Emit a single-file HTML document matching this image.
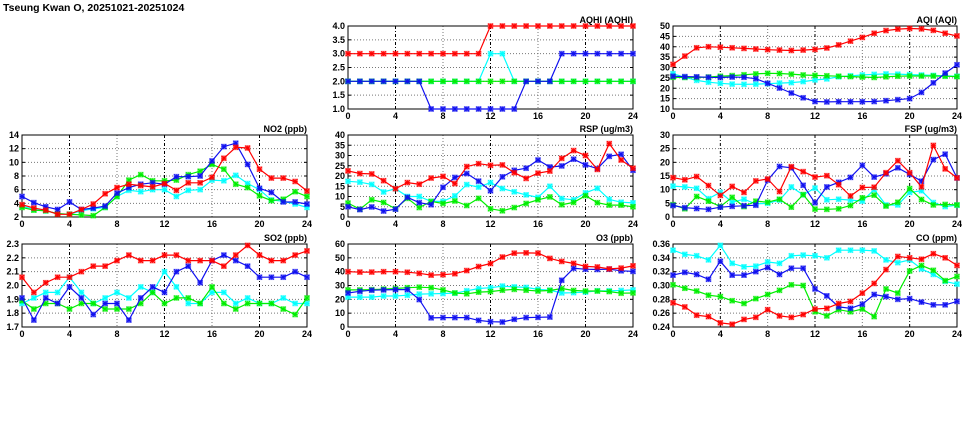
<!DOCTYPE html>
<html><head><meta charset="utf-8"><style>
html,body{margin:0;padding:0;background:#fff;}
svg{display:block;font-family:"Liberation Sans",sans-serif;}
</style></head><body>
<svg id="chart" width="975" height="447" viewBox="0 0 975 447">
<text x="3" y="11" font-size="10.5" font-weight="bold" fill="#000">Tseung Kwan O, 20251021-20251024</text>
</svg>
<script>
const hours = [0,1,2,3,4,5,6,7,8,9,10,11,12,13,14,15,16,17,18,19,20,21,22,23,24];
const xTicks = [0,4,8,12,16,20,24];
const seriesColors = ['#00ffff','#00ee00','#1010f0','#ff0000'];
const seriesNames = ['cyan','green','blue','red'];

const no2Red = [3.8,3.3,3.0,2.4,2.4,3.1,3.9,5.4,6.3,6.8,6.6,6.4,6.9,5.9,7.0,7.0,7.8,10.6,12.2,12.1,9.0,7.7,7.7,7.2,5.8];
const no2Blue = [5.0,4.1,3.5,3.1,4.2,3.1,3.3,3.6,5.5,6.3,6.8,7.0,6.8,7.9,7.9,8.0,10.2,12.3,12.8,9.7,6.2,5.6,4.2,4.2,3.9];
const no2Cyan = [3.6,3.1,2.9,2.5,2.4,2.9,3.2,3.4,5.0,5.9,5.7,6.0,6.0,5.0,5.9,6.0,7.4,7.3,8.1,6.9,6.0,4.5,4.3,3.9,3.4];
const no2Green = [3.4,3.0,2.9,2.5,2.4,2.3,2.2,3.4,5.0,7.4,8.2,7.3,7.3,7.4,8.2,8.7,9.7,9.0,6.8,6.3,5.1,4.4,4.6,5.7,5.0];
const no2Ticks = [2,4,6,8,10,12,14];

const aqhiRed = [3,3,3,3,3,3,3,3,3,3,3,3,4,4,4,4,4,4,4,4,4,4,4,4,4];
const aqhiBlue = [2,2,2,2,2,2,2,1,1,1,1,1,1,1,1,2,2,2,3,3,3,3,3,3,3];
const aqhiCyan = [2,2,2,2,2,2,2,2,2,2,2,2,3,3,2,2,2,2,2,2,2,2,2,2,2];
const aqhiGreen = [2,2,2,2,2,2,2,2,2,2,2,2,2,2,2,2,2,2,2,2,2,2,2,2,2];
const aqhiTicks = [1.0,1.5,2.0,2.5,3.0,3.5,4.0];

const aqiRed = [31.5,35.5,39.5,40,39.8,39.5,39.2,38.9,38.6,38.4,38.2,38.4,38.7,39.4,40.9,42.7,44.5,46.5,47.8,48.5,48.8,48.6,47.9,46.5,45.2];
const aqiBlue = [25.8,25.6,25.5,25.3,25.2,25.4,25.3,24.6,22.4,20.1,17.7,15.4,13.6,13.4,13.5,13.5,13.5,13.6,14,14.5,15,18,22.6,27.3,31.3];
const aqiCyan = [27,25.3,23.8,22.9,22.4,22,21.9,22,22.2,22.5,22.7,23.2,24,24.5,25.5,26,26.4,26.7,26.9,26.8,26.6,26.4,26.2,26,25.8];
const aqiGreen = [25.3,25.2,25.2,25.4,25.8,26.1,26.5,26.9,27.2,27.1,26.8,26.4,26.2,26,25.8,25.6,25.4,25.2,25.5,25.8,25.9,25.9,25.9,25.8,25.6];
const aqiTicks = [10,15,20,25,30,35,40,45,50];

const rspRed = [22.5,21.2,21,17.7,13.8,16.8,16,19,19.8,16.3,24.6,26,25.2,25.4,21.6,18.8,21.4,22.4,28.6,32.4,30,23.2,35.8,27.8,23.8];
const rspBlue = [5,3.6,4.9,2.9,3.8,9.6,7,6,14.5,19.3,21.2,17.5,12.8,19.6,22.8,23.8,27.8,24.4,24.9,28.2,25.4,23.6,29.6,30.6,22.8];
const rspCyan = [17.4,17,15.9,12.2,13.8,10,10,7.6,7.6,10.3,15.8,14.6,16.8,13.9,12.3,10.8,9.6,15,9,8.4,11.8,14,8.6,7.2,6.9];
const rspGreen = [6.8,3.8,8.4,7.1,4,9.1,4.6,7.6,6.6,7.8,5.6,9.1,4,3,4.6,6.6,8.4,9.8,6,7.1,10.4,7,5.8,5.8,5];
const rspTicks = [0,5,10,15,20,25,30,35,40];

const fspRed = [14.4,13.6,14.8,11.5,7.9,11.2,9,13.2,13.9,9.3,18.4,16.6,14.6,15.1,11.8,7.7,10.8,10.9,16.2,20.6,16.2,11,26.2,17.6,14.3];
const fspBlue = [4.2,3.4,3.1,2.8,3.6,3.9,4.1,4.3,13.5,18.5,18,11.6,5.2,11,12.7,14.5,18.9,14.6,15.8,18,15.6,13.1,21,23,14.3];
const fspCyan = [11.3,11,10.5,6.7,9,5.4,6.5,4.8,5,6.2,11,8.1,10.6,6.3,6.5,6.2,5.8,10,4.4,4.4,9,9.6,5.3,3.8,4.3];
const fspGreen = [4.5,3,7.5,5.8,3.8,7.2,3.8,5.8,5.4,6.5,3.6,8.2,2.9,2.8,3,4.2,7,8,4,5.4,10.4,6.4,4.4,4.6,4.4];
const fspTicks = [0,5,10,15,20,25,30];

const so2Red = [2.06,1.95,2.02,2.06,2.06,2.10,2.14,2.14,2.18,2.22,2.18,2.18,2.22,2.22,2.18,2.18,2.18,2.14,2.22,2.29,2.22,2.18,2.18,2.22,2.25];
const so2Blue = [1.91,1.75,1.91,1.87,1.99,1.91,1.79,1.87,1.87,1.75,1.91,1.99,1.95,2.10,2.14,2.02,2.18,2.22,2.18,2.14,2.06,2.06,2.06,2.10,2.06];
const so2Cyan = [1.87,1.91,1.95,1.95,2.06,1.95,1.87,1.91,1.95,1.91,1.99,1.95,2.10,1.99,1.87,1.87,1.95,1.95,1.87,1.91,1.87,1.87,1.91,1.87,1.87];
const so2Green = [1.89,1.83,1.87,1.87,1.83,1.87,1.87,1.83,1.83,1.83,1.87,1.95,1.87,1.91,1.91,1.87,1.99,1.87,1.83,1.87,1.87,1.87,1.83,1.79,1.91];
const so2Ticks = [1.7,1.8,1.9,2.0,2.1,2.2,2.3];

const o3Red = [40,39.7,39.7,40,40,39.6,38.8,37.5,37.8,38.5,40.8,43.7,45.9,50.6,53.4,53.6,53.4,49.6,47.4,46,43.8,43.4,42,42.6,44.2];
const o3Blue = [24.6,25.8,26.6,26.8,27,27,19.8,6.6,6.8,6.8,6.8,4.8,3.8,3.6,5.6,6.8,7,7.2,33.8,42.4,41.8,41.6,41.8,40.6,40.2];
const o3Cyan = [21.6,21.6,21.6,22.4,22.4,23,23.8,24,24.2,24.4,26.2,27.8,28.4,29.6,29,28.6,27.2,26.6,24.6,24.8,25.2,26.2,26.2,26.4,26.8];
const o3Green = [26.8,26.8,27,27.4,27.8,28.4,28.8,28.4,26.8,24.6,24,25.2,25.6,26.6,27.2,26.6,26,26.4,27.8,26.4,26,26,25.6,24.4,24.6];
const o3Ticks = [0,10,20,30,40,50,60];

const coRed = [.275,.269,.257,.255,.246,.244,.251,.254,.265,.256,.254,.258,.266,.267,.274,.277,.289,.303,.323,.342,.340,.338,.346,.340,.329];
const coBlue = [.315,.319,.316,.309,.335,.315,.315,.320,.326,.316,.325,.325,.295,.285,.269,.267,.273,.287,.284,.280,.281,.276,.272,.272,.277];
const coCyan = [.351,.345,.343,.337,.358,.332,.327,.328,.334,.332,.343,.344,.343,.340,.351,.351,.351,.350,.337,.333,.337,.324,.316,.306,.302];
const coGreen = [.301,.296,.292,.286,.284,.278,.274,.281,.287,.293,.301,.300,.262,.256,.265,.262,.266,.255,.295,.289,.321,.329,.322,.307,.313];
const coTicks = [0.24,0.26,0.28,0.30,0.32,0.34,0.36];

const NS = 'http://www.w3.org/2000/svg';
const svg = document.getElementById('chart');
function mk(tag, attrs, parent) {
  const e = document.createElementNS(NS, tag);
  for (const k in attrs) e.setAttribute(k, attrs[k]);
  (parent || svg).appendChild(e);
  return e;
}
const colX = [[22,307],[348,633],[673,957]];
const rowY = [[26,109],[135,217],[244,327]];

function panel(name, title, col, row, ticks, dec, series) {
  const [x0,x1] = colX[col], [y0,y1] = rowY[row];
  const ymin = ticks[0], ymax = ticks[ticks.length-1];
  const sx = v => x0 + (v - hours[0]) / (hours[hours.length-1] - hours[0]) * (x1 - x0);
  const sy = v => y1 - (v - ymin) / (ymax - ymin) * (y1 - y0);
  const g = mk('g', {});
  
  
  mk('rect', {x:x0, y:y0, width:x1-x0, height:y1-y0, fill:'#fff', stroke:'none'}, g);
  ticks.forEach((t, i) => {
    const y = sy(t);
    if (i > 0 && i < ticks.length-1) mk('line', {x1:x0, x2:x1, y1:y, y2:y, stroke:'#777', 'stroke-width':1, 'stroke-dasharray':'1,2'}, g);
    mk('line', {x1:x0, x2:x0+3, y1:y, y2:y, stroke:'#000'}, g);
    mk('line', {x1:x1-3, x2:x1, y1:y, y2:y, stroke:'#000'}, g);
    const tl = mk('text', {x:x0-3, y:y+3, 'text-anchor':'end', 'font-size':9, 'font-weight':'bold'}, g);
    tl.textContent = t.toFixed(dec);
    
    
  });
  xTicks.forEach((t, i) => {
    const x = sx(t);
    if (i > 0 && i < xTicks.length-1) {
      const dark = (t === 4 || t === 12 || t === 20);
      mk('line', {x1:x, x2:x, y1:y0, y2:y1, stroke: dark ? '#000' : '#777', 'stroke-width':1, 'stroke-dasharray': dark ? '3,2,1,2' : '1,2'}, g);
    }
    const tl = mk('text', {x:x, y:y1+10, 'text-anchor':'middle', 'font-size':9, 'font-weight':'bold'}, g);
    tl.textContent = t;
    
    
  });
  mk('rect', {x:x0, y:y0, width:x1-x0, height:y1-y0, fill:'none', stroke:'#000', 'stroke-width':1}, g);
  const tt = mk('text', {x:x1, y:y0-3, 'text-anchor':'end', 'font-size':9, 'font-weight':'bold'}, g);
  tt.textContent = title;
  
  
  series.forEach((vals, si) => {
    const c = seriesColors[si];
    const pts = vals.map((v, i) => sx(hours[i]).toFixed(1) + ',' + sy(v).toFixed(1)).join(' ');
    const pl = mk('polyline', {points:pts, fill:'none', stroke:c, 'stroke-width':1.2}, g);
    
    
    vals.forEach((v, i) => {
      const x = sx(hours[i]), y = sy(v), r = 2.3;
      const m = mk('g', {stroke:c, 'stroke-width':1.1}, g);
      
      
      mk('rect', {x:x-r, y:y-r, width:2*r, height:2*r, fill:'none', 'stroke-opacity':0.5}, m);
      mk('line', {x1:x-r, y1:y-r, x2:x+r, y2:y+r}, m);
      mk('line', {x1:x-r, y1:y+r, x2:x+r, y2:y-r}, m);
      mk('line', {x1:x-r, y1:y, x2:x+r, y2:y}, m);
      mk('line', {x1:x, y1:y-r, x2:x, y2:y+r}, m);
    });
  });
}
panel('aqhi', 'AQHI (AQHI)', 1, 0, aqhiTicks, 1, [aqhiCyan, aqhiGreen, aqhiBlue, aqhiRed]);
panel('aqi', 'AQI (AQI)', 2, 0, aqiTicks, 0, [aqiCyan, aqiGreen, aqiBlue, aqiRed]);
panel('no2', 'NO2 (ppb)', 0, 1, no2Ticks, 0, [no2Cyan, no2Green, no2Blue, no2Red]);
panel('rsp', 'RSP (ug/m3)', 1, 1, rspTicks, 0, [rspCyan, rspGreen, rspBlue, rspRed]);
panel('fsp', 'FSP (ug/m3)', 2, 1, fspTicks, 0, [fspCyan, fspGreen, fspBlue, fspRed]);
panel('so2', 'SO2 (ppb)', 0, 2, so2Ticks, 1, [so2Cyan, so2Green, so2Blue, so2Red]);
panel('o3', 'O3 (ppb)', 1, 2, o3Ticks, 0, [o3Cyan, o3Green, o3Blue, o3Red]);
panel('co', 'CO (ppm)', 2, 2, coTicks, 2, [coCyan, coGreen, coBlue, coRed]);
</script>
</body></html>
